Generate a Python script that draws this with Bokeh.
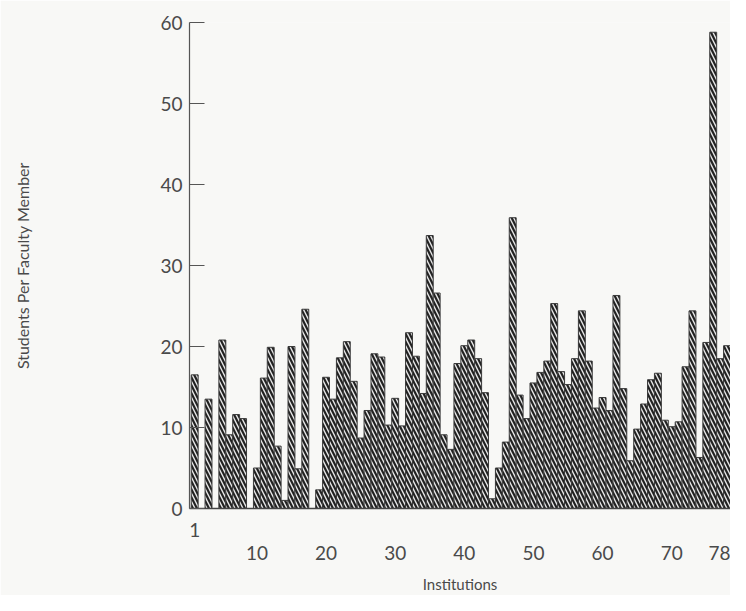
from bokeh.plotting import figure
from bokeh.models import Range1d, FixedTicker, LinearAxis
from bokeh.embed import file_html
from bokeh.resources import INLINE

# ---- data ----
institutions = list(range(1, 79))
students_per_faculty = [
    16.5, 0.0, 13.5, 0.0, 20.8, 9.1, 11.6, 11.1, 0.0, 5.0,
    16.1, 19.9, 7.7, 1.0, 20.0, 4.9, 24.6, 0.0, 2.3, 16.2,
    13.5, 18.6, 20.6, 15.7, 8.7, 12.1, 19.1, 18.7, 10.3, 13.6,
    10.2, 21.7, 18.8, 14.2, 33.7, 26.6, 9.1, 7.3, 17.9, 20.1,
    20.8, 18.5, 14.3, 1.2, 5.0, 8.2, 35.9, 14.0, 11.1, 15.5,
    16.8, 18.2, 25.3, 16.9, 15.3, 18.5, 24.4, 18.2, 12.4, 13.7,
    12.1, 26.3, 14.8, 5.9, 9.8, 12.9, 15.9, 16.7, 10.9, 10.1,
    10.7, 17.5, 24.4, 6.3, 20.5, 58.8, 18.5, 20.1,
]
first_tick = [1]
x_ticks = [10, 20, 30, 40, 50, 60, 70, 78]
y_ticks = [0, 10, 20, 30, 40, 50, 60]

FONT = "Lato"
TXT = "#4a4a4a"
BG = "#f8f8f6"

p = figure(width=730, height=595, output_backend="svg", toolbar_location=None,
           x_range=Range1d(0.25, 78.5), y_range=Range1d(0, 60),
           x_axis_type=None,
           min_border_left=189, min_border_right=0, min_border_top=22,
           min_border_bottom=75)
p.background_fill_color = BG
p.border_fill_color = BG
p.outline_line_color = None
p.grid.visible = False

p.vbar(x=institutions, top=students_per_faculty, width=1.0, bottom=0,
       fill_color="#e8e8e8", line_color="#3a3a3a", line_width=1,
       hatch_pattern="left_diagonal_line", hatch_color="#222222",
       hatch_weight=2.2, hatch_scale=8)

# y axis
ya = p.yaxis[0]
ya.ticker = FixedTicker(ticks=y_ticks)
ya.major_tick_in = 15
ya.major_tick_out = 0
ya.minor_tick_line_color = None
ya.axis_line_color = "#555555"
ya.axis_line_width = 1.2
ya.major_tick_line_color = "#555555"
ya.major_label_text_font = FONT
ya.major_label_text_font_size = "19px"
ya.major_label_text_color = TXT
ya.major_label_standoff = 7
ya.axis_label = "Students Per Faculty Member"
ya.axis_label_text_font = FONT
ya.axis_label_text_font_size = "16px"
ya.axis_label_text_font_style = "normal"
ya.axis_label_text_color = TXT
ya.axis_label_standoff = 125

# x axis: first row with "1"
xa1 = LinearAxis(ticker=FixedTicker(ticks=first_tick))
xa1.major_tick_line_color = None
xa1.minor_tick_line_color = None
xa1.axis_line_color = "#444444"
xa1.axis_line_width = 1.5
xa1.major_label_text_font = FONT
xa1.major_label_text_font_size = "19px"
xa1.major_label_text_color = TXT
xa1.major_label_standoff = 8
p.add_layout(xa1, "below")

# x axis: second row with other labels
xa2 = LinearAxis(ticker=FixedTicker(ticks=x_ticks))
xa2.major_tick_line_color = None
xa2.minor_tick_line_color = None
xa2.axis_line_color = None
xa2.major_label_text_font = FONT
xa2.major_label_text_font_size = "19px"
xa2.major_label_text_color = TXT
xa2.major_label_standoff = 0
xa2.axis_label = "Institutions"
xa2.axis_label_text_font = FONT
xa2.axis_label_text_font_size = "15px"
xa2.axis_label_text_font_style = "normal"
xa2.axis_label_text_color = TXT
xa2.axis_label_standoff = 12
p.add_layout(xa2, "below")

open("out.html", "w").write(file_html(p, INLINE))
